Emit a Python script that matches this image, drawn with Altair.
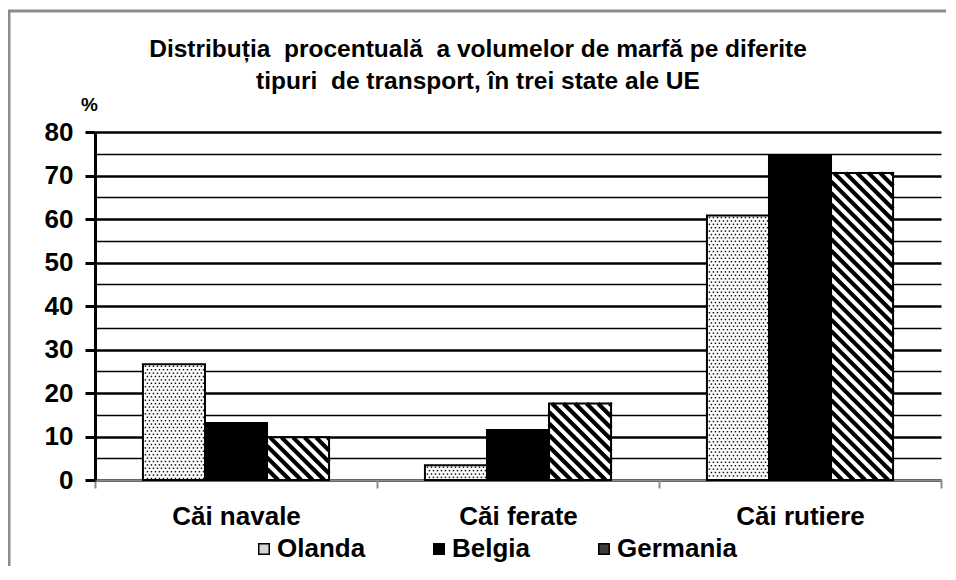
import altair as alt
import pandas as pd
import math

# ---------------- data ----------------
categories = ["Căi navale", "Căi ferate", "Căi rutiere"]
countries = ["Olanda", "Belgia", "Germania"]
olanda = [26.6, 3.4, 60.8]
belgia = [13.1, 11.5, 74.5]
germania = [9.8, 17.6, 70.6]
y_ticks = list(range(0, 81, 5))
title_lines = ["Distribuția\u00a0 procentuală\u00a0 a volumelor de marfă pe diferite",
               "tipuri\u00a0 de transport, în trei state ale UE"]

# ---------------- layout ----------------
W, H = 846, 348
X_MAX, Y_MAX = 3, 80
BAR_W = 0.22
PX_X = W / X_MAX
PX_Y = H / Y_MAX
FONT = "Liberation Sans"

rows = []
for ci, cat in enumerate(categories):
    for si, (country, vals) in enumerate(zip(countries, [olanda, belgia, germania])):
        c = ci + 0.5 + (si - 1) * BAR_W
        rows.append(dict(category=cat, country=country, value=vals[ci],
                         x0=c - BAR_W / 2, x1=c + BAR_W / 2, xc=c, zero=0))
bars = pd.DataFrame(rows)

# dotted texture for Olanda
dots = []
for r in bars[bars.country == "Olanda"].itertuples():
    w_px = (r.x1 - r.x0) * PX_X
    h_px = r.value * PX_Y
    yy, row = 2.0, 0
    while yy < h_px - 1.5:
        xx = 2.5 + (2.0 if row % 2 else 0.0)
        while xx < w_px - 1.5:
            dots.append(dict(x=r.x0 + xx / PX_X, y=r.value - yy / PX_Y))
            xx += 4.0
        yy += 3.4
        row += 1
dots = pd.DataFrame(dots)

# diagonal hatch for Germania
hatch = []
PERIOD = 11.5
for r in bars[bars.country == "Germania"].itertuples():
    w_px = (r.x1 - r.x0) * PX_X
    h_px = r.value * PX_Y
    k0 = math.floor(-h_px / PERIOD) - 1
    k1 = math.ceil(w_px / PERIOD) + 1
    for k in range(k0, k1 + 1):
        c = k * PERIOD + 3
        xa = max(0.0, c)
        xb = min(w_px, c + h_px)
        if xb - xa > 0.5:
            hatch.append(dict(x=r.x0 + xa / PX_X, y=r.value - (xa - c) / PX_Y,
                              x2=r.x0 + xb / PX_X, y2=r.value - (xb - c) / PX_Y))
hatch = pd.DataFrame(hatch)

xs = alt.Scale(domain=[0, X_MAX], nice=False, zero=False)
ys = alt.Scale(domain=[0, Y_MAX], nice=False)

label_expr = " : ".join(
    [f"datum.value == {i + 0.5} ? '{c}'" for i, c in enumerate(categories)]) + " : ''"

x_axis = alt.Axis(values=[0, 0.5, 1, 1.5, 2, 2.5, 3], labelExpr=label_expr, title=None,
                  grid=False, domainColor="#8c8c8c", domainWidth=2,
                  tickColor="#8c8c8c", tickWidth=2, tickSize=8,
                  tickOpacity={"condition": {"test": "datum.value % 1 === 0", "value": 1}, "value": 0},
                  labelFont=FONT, labelFontSize=26, labelFontWeight="bold", labelColor="black",
                  labelPadding=15, labelOverlap=False, labelFlush=False, labelBound=False)

y_axis = alt.Axis(values=y_ticks, labelExpr="datum.value % 10 === 0 ? datum.label : ''",
                  title="%", titleAngle=0, titleX=-6, titleY=-28, titleAlign="center",
                  titleBaseline="middle", titleFont=FONT, titleFontSize=19, titleFontWeight="bold",
                  titleColor="black",
                  grid=True, gridColor="black",
                  gridWidth={"condition": {"test": "datum.value % 10 === 0", "value": 2.6}, "value": 1.6},
                  domainColor="black", domainWidth=3, tickColor="black", tickWidth=3, tickSize=10,
                  tickOpacity={"condition": {"test": "datum.value % 10 === 0", "value": 1}, "value": 0},
                  labelFont=FONT, labelFontSize=26, labelFontWeight="bold", labelColor="black",
                  labelPadding=12, labelOverlap=False)


def X(field):
    return alt.X(field, scale=xs, axis=x_axis)


def Y(field):
    return alt.Y(field, scale=ys, axis=y_axis)


base = alt.Chart(bars)

bar_fill = base.mark_bar(strokeWidth=0).encode(
    x=X("x0:Q"), x2="x1:Q",
    y=Y("value:Q"), y2="zero:Q",
    fill=alt.Fill("country:N", scale=alt.Scale(domain=countries, range=["white", "black", "white"]),
                  legend=None),
)

dot_layer = alt.Chart(dots).mark_square(size=2.2, color="black", opacity=0.95).encode(
    x=X("x:Q"), y=Y("y:Q"),
)

hatch_layer = alt.Chart(hatch).mark_rule(strokeWidth=4.2, color="black", strokeCap="butt").encode(
    x=X("x:Q"), y=Y("y:Q"), x2="x2:Q", y2="y2:Q",
)

outline = base.mark_bar(fill="white", fillOpacity=0, stroke="black", strokeWidth=2).encode(
    x=X("x0:Q"), x2="x1:Q",
    y=Y("value:Q"), y2="zero:Q",
)

# legend: small squares whose tone mimics each texture
legend_layer = base.mark_point(shape="square", filled=True, size=1).encode(
    x=X("xc:Q"), y=Y("zero:Q"),
    color=alt.Color("country:N",
                    scale=alt.Scale(domain=countries, range=["#d4d4d4", "#000000", "#3c3c3c"]),
                    legend=alt.Legend(title=None, orient="none", legendX=156, legendY=404,
                                      direction="horizontal", symbolType="square",
                                      symbolSize=110, symbolOpacity=1,
                                      symbolStrokeColor="black", symbolStrokeWidth=1.5,
                                      labelFont=FONT, labelFontSize=26, labelFontWeight="bold",
                                      labelColor="black", labelOffset=0, columnPadding=60,
                                      padding=0, labelLimit=300)),
)

frame = alt.Chart(pd.DataFrame({"a": [0]})).mark_rect(
    fill="white", fillOpacity=0, stroke="#8c8c8c", strokeWidth=3).encode(
    x=alt.value(-86), x2=alt.value(900), y=alt.value(-121), y2=alt.value(520))

chart = alt.layer(legend_layer, bar_fill, dot_layer, hatch_layer, outline, frame).properties(
    width=W, height=H,
    padding={"left": 87, "top": 124, "right": 5, "bottom": 86},
    autosize=alt.AutoSizeParams(type="none"),
    background="white",
    title=alt.TitleParams(text=title_lines, anchor="middle", dx=-40, offset=-85,
                          font=FONT, fontSize=24.5, fontWeight="bold", color="black",
                          lineHeight=32),
).configure_view(strokeWidth=0)

chart.save("out.html", embed_options={"renderer": "svg", "actions": False})
